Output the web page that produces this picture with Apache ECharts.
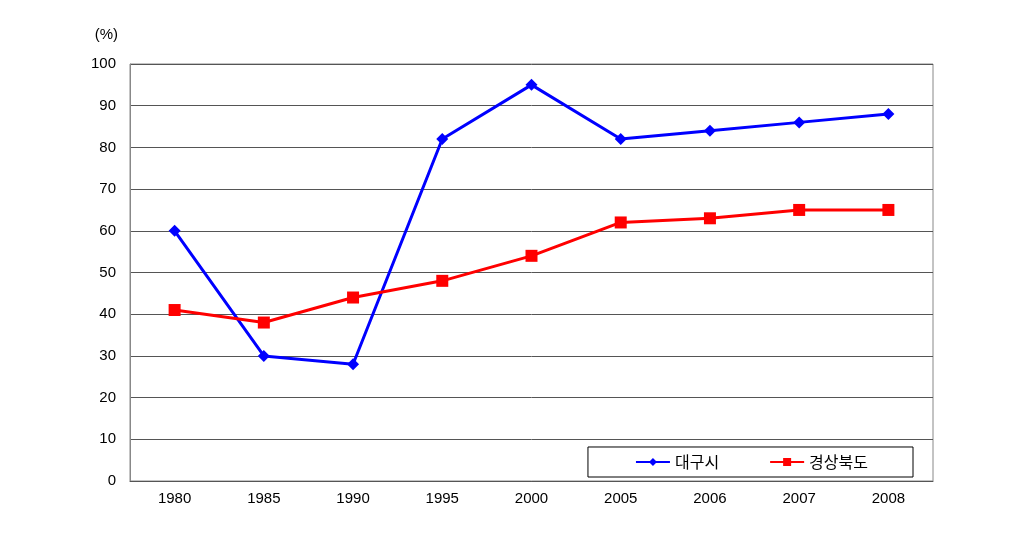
<!DOCTYPE html>
<html><head><meta charset="utf-8">
<script src="https://cdn.jsdelivr.net/npm/echarts@6/dist/echarts.min.js"></script>
<style>html,body{margin:0;padding:0;background:#fff}#c{width:1024px;height:540px}</style>
</head><body><div id="c"></div>
<script>
const categories = ['1980','1985','1990','1995','2000','2005','2006','2007','2008'];
const daegu = [60,30,28,82,95,82,84,86,88];
const gyeongbuk = [41,38,44,48,54,62,63,65,65];
const seriesNames = ['대구시','경상북도'];
const unitLabel = '(%)';

const chart = echarts.init(document.getElementById('c'));
const font = "'Liberation Sans', 'Noto Sans CJK KR', sans-serif";
chart.setOption({
  animation:false,
  textStyle:{fontFamily:font},
  grid:{left:130,right:91,top:64,bottom:59,show:true,borderColor:'#888',borderWidth:1},
  legend:{
    right:111,bottom:63,
    orient:'horizontal',
    backgroundColor:'#fff',borderColor:'#000',borderWidth:1,borderRadius:0,
    padding:[7,45,7,47],itemGap:50,itemWidth:34,itemHeight:10,
    textStyle:{fontSize:16,color:'#000',fontFamily:"'Noto Sans CJK KR', sans-serif"},
    data:seriesNames
  },
  xAxis:{
    type:'category',data:categories,boundaryGap:true,
    axisLine:{lineStyle:{color:'#555',width:1}},
    axisTick:{inside:true,length:4,lineStyle:{color:'#333'}},
    axisLabel:{fontSize:15,color:'#000',margin:10}
  },
  yAxis:{
    type:'value',min:0,max:100,interval:10,
    name:unitLabel,nameLocation:'end',nameGap:22,
    nameTextStyle:{fontSize:15,color:'#000',align:'right',padding:[0,12,0,0]},
    axisLine:{show:true,lineStyle:{color:'#888'}},
    axisTick:{show:false},
    axisLabel:{fontSize:15,color:'#000',margin:14},
    splitLine:{lineStyle:{color:'#555',width:1}}
  },
  series:[
    {name:seriesNames[0],type:'line',data:daegu,symbol:'diamond',symbolSize:12,
     lineStyle:{color:'#0000ff',width:3},itemStyle:{color:'#0000ff'}},
    {name:seriesNames[1],type:'line',data:gyeongbuk,symbol:'rect',symbolSize:12,
     lineStyle:{color:'#ff0000',width:3},itemStyle:{color:'#ff0000'}}
  ]
});
</script></body></html>
